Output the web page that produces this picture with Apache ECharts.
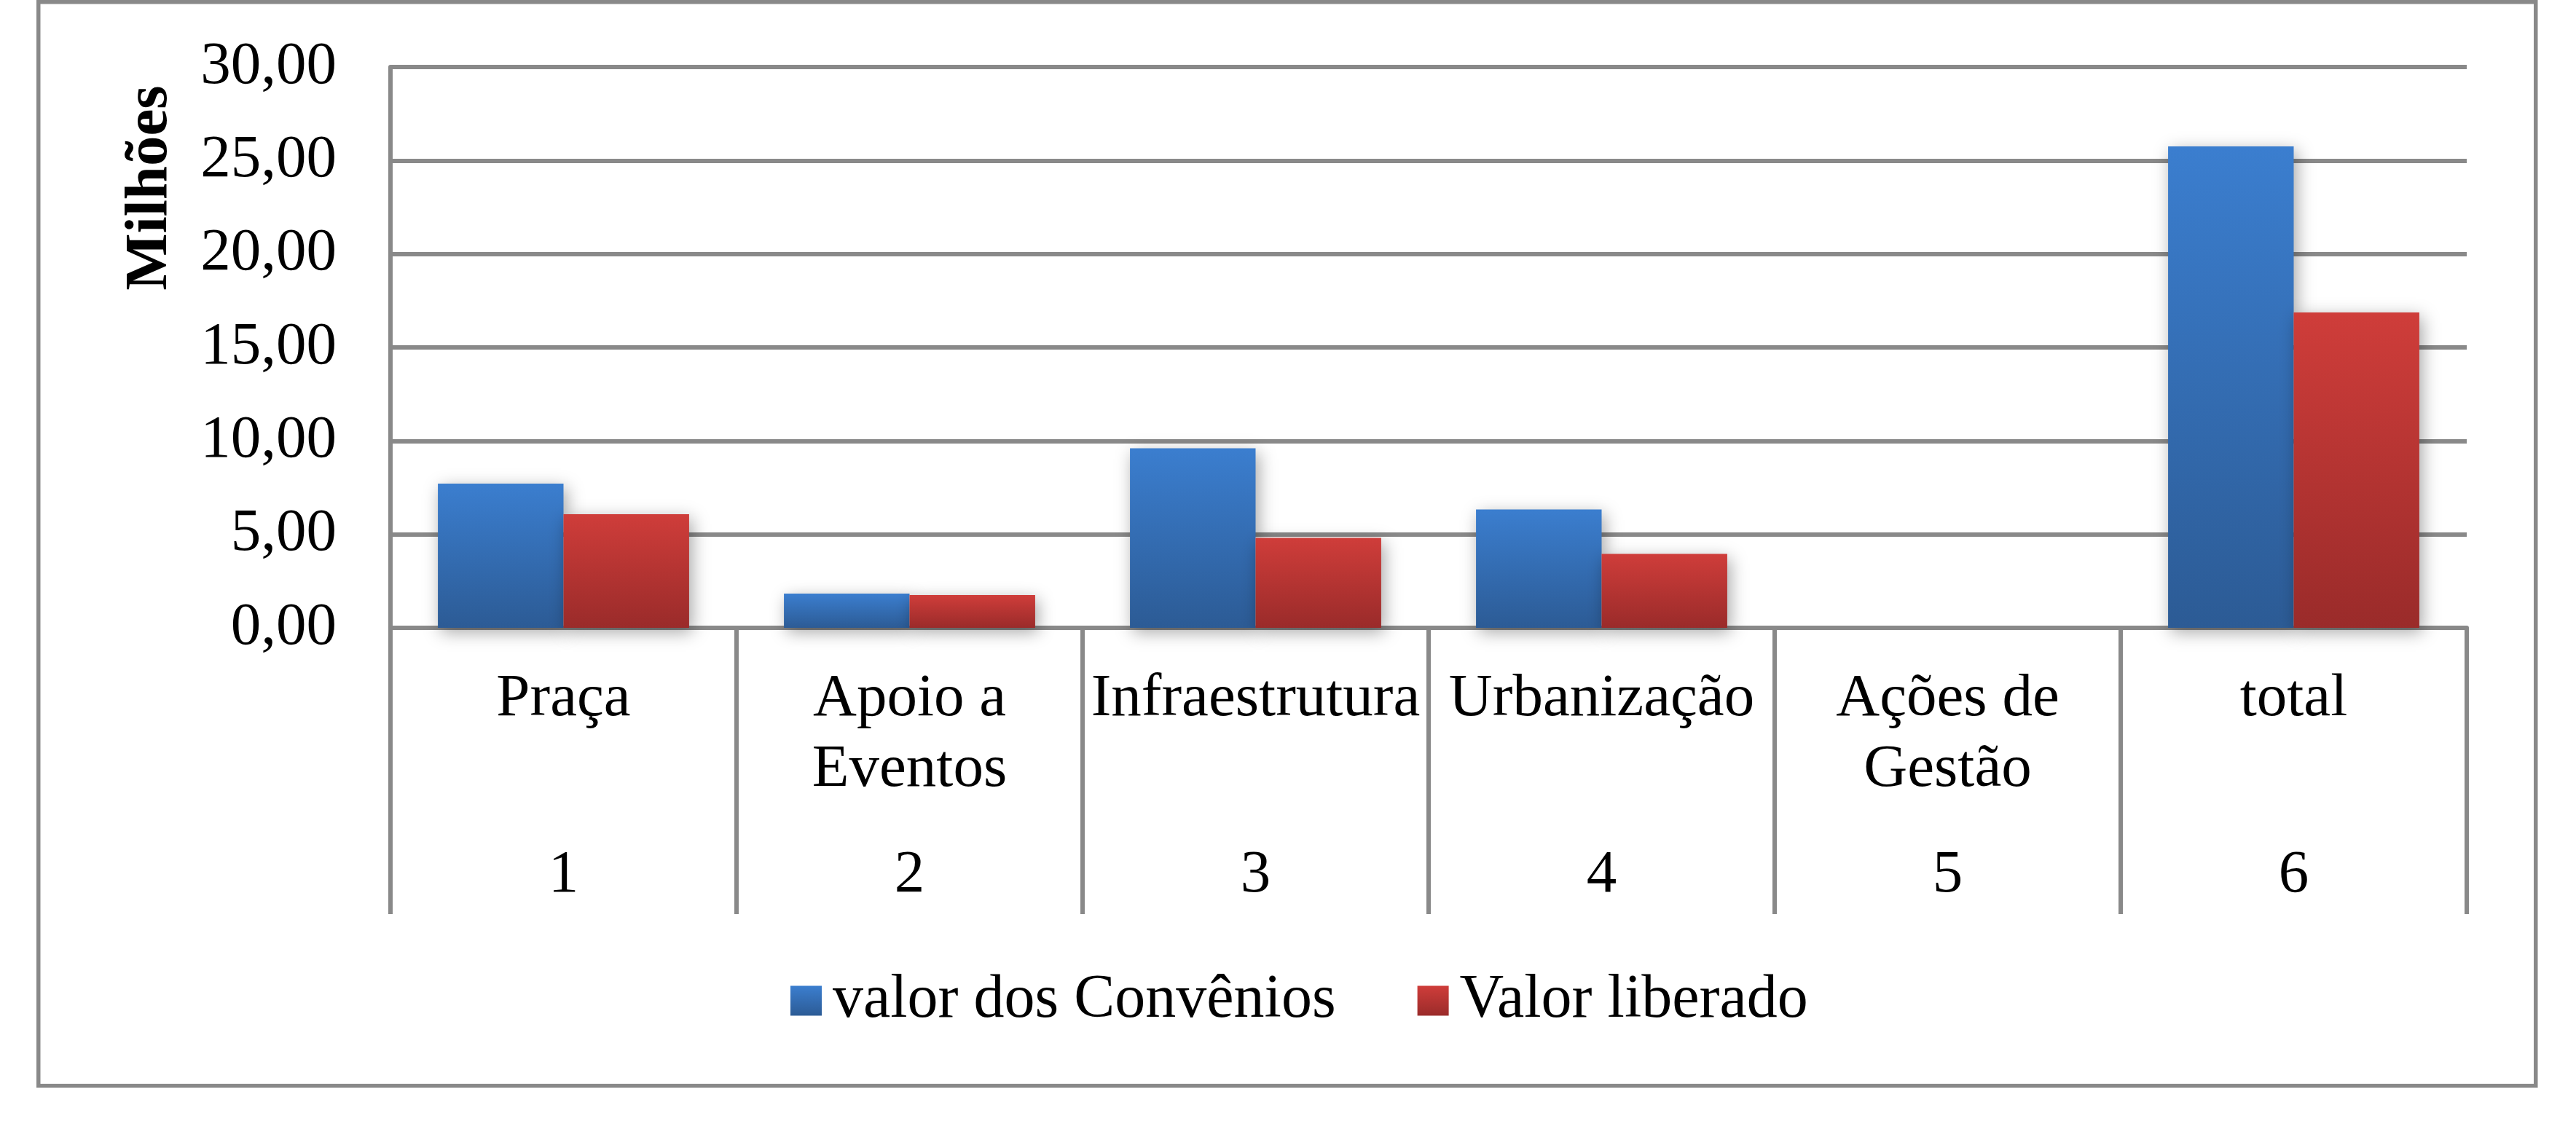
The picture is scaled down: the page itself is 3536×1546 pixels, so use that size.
<!DOCTYPE html>
<html>
<head>
<meta charset="utf-8">
<script src="https://cdn.jsdelivr.net/npm/echarts@6/dist/echarts.min.js"></script>
<style>
html,body{margin:0;padding:0;background:#fff;}
#chart{width:3536px;height:1546px;}
</style>
</head>
<body>
<div id="chart"></div>
<script>
const categories = ['Praça', 'Apoio a\nEventos', 'Infraestrutura', 'Urbanização', 'Ações de\nGestão', 'total'];
const categoryNumbers = ['1', '2', '3', '4', '5', '6'];
const valorConvenios = [7.71, 1.83, 9.60, 6.33, 0, 25.75];
const valorLiberado = [6.08, 1.75, 4.81, 3.95, 0, 16.87];
const seriesNames = ['valor dos Convênios', 'Valor liberado'];
const yTickLabels = ['0,00', '5,00', '10,00', '15,00', '20,00', '25,00', '30,00'];
const yAxisTitle = 'Milhões';

const FONT = 'Liberation Serif';
const GRAY = '#898989';

const chart = echarts.init(document.getElementById('chart'), null, {renderer: 'canvas'});

function grad(top, bottom) {
  return new echarts.graphic.LinearGradient(0, 0, 0, 1, [
    {offset: 0, color: top},
    {offset: 1, color: bottom}
  ]);
}

const option = {
  backgroundColor: '#ffffff',
  animation: false,
  grid: {left: 536, right: 150, top: 92, bottom: 684, containLabel: false},
  legend: {
    left: 1080,
    top: 1327,
    itemWidth: 43,
    itemHeight: 41,
    itemGap: 112,
    icon: 'rect',
    textStyle: {fontFamily: FONT, fontSize: 84, color: '#000', padding: [0, 0, 0, 10]},
    data: seriesNames
  },
  xAxis: [
    {
      type: 'category',
      data: categories,
      position: 'bottom',
      axisLine: {show: true, lineStyle: {color: GRAY, width: 6}},
      axisTick: {show: true, interval: 0, length: 393, lineStyle: {color: GRAY, width: 6}},
      axisLabel: {interval: 0, margin: 50, fontFamily: FONT, fontSize: 83, lineHeight: 97, color: '#000'},
      splitLine: {show: false}
    },
    {
      type: 'category',
      data: categoryNumbers,
      position: 'bottom',
      axisLine: {show: false},
      axisTick: {show: false},
      axisLabel: {interval: 0, margin: 292, fontFamily: FONT, fontSize: 83, lineHeight: 97, color: '#000'},
      splitLine: {show: false}
    }
  ],
  yAxis: {
    type: 'value',
    min: 0,
    max: 30,
    interval: 5,
    axisLine: {show: true, lineStyle: {color: GRAY, width: 6}},
    axisTick: {show: false},
    axisLabel: {
      margin: 74,
      fontFamily: FONT,
      fontSize: 83,
      color: '#000',
      formatter: function (v) { return yTickLabels[Math.round(v / 5)]; }
    },
    splitLine: {show: true, lineStyle: {color: GRAY, width: 6}}
  },
  series: [
    {
      name: seriesNames[0],
      type: 'bar',
      xAxisIndex: 0,
      data: valorConvenios,
      barGap: '0%',
      barCategoryGap: '27.4%',
      itemStyle: {
        color: grad('#3b7ecf', '#2c5b95'),
        shadowColor: 'rgba(0,0,0,0.35)',
        shadowBlur: 22,
        shadowOffsetX: 4,
        shadowOffsetY: 6
      }
    },
    {
      name: seriesNames[1],
      type: 'bar',
      xAxisIndex: 0,
      data: valorLiberado,
      barGap: '0%',
      barCategoryGap: '27.4%',
      itemStyle: {
        color: grad('#cf3d3a', '#9a2b2a'),
        shadowColor: 'rgba(0,0,0,0.35)',
        shadowBlur: 22,
        shadowOffsetX: 4,
        shadowOffsetY: 6
      }
    }
  ],
  graphic: [
    {
      type: 'rect',
      left: 50,
      top: 0,
      shape: {x: 0, y: 0, width: 3428, height: 1488},
      style: {fill: 'none', stroke: GRAY, lineWidth: 5.5},
      silent: true,
      z: -1
    },
    {
      type: 'text',
      x: 207,
      y: 258,
      rotation: Math.PI / 2,
      style: {
        text: yAxisTitle,
        fontFamily: FONT,
        fontSize: 83,
        fontWeight: 'bold',
        fill: '#000',
        align: 'center',
        verticalAlign: 'middle'
      }
    }
  ]
};

chart.setOption(option);
</script>
</body>
</html>
